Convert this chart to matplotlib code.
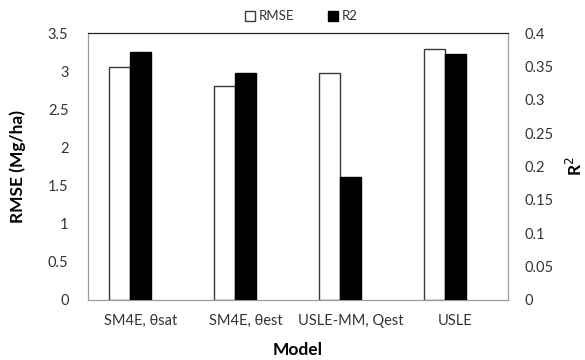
import numpy as np
import matplotlib.pyplot as plt
from matplotlib.patches import Patch

plt.rcParams['font.family'] = ['Lato', 'DejaVu Sans']

models = ['SM4E, θsat', 'SM4E, θest', 'USLE-MM, Qest', 'USLE']
rmse = [3.05, 2.80, 2.97, 3.29]
r2 = [0.371, 0.340, 0.185, 0.368]

tick_col = '#333333'
frame_col = '#9a9a9a'

fig = plt.figure(figsize=(5.85, 3.6), dpi=100)
ax = fig.add_axes([0.1504, 0.1667, 0.7180, 0.7416])
ax2 = ax.twinx()

x = np.arange(len(models))
w = 0.2
ax.bar(x - w, rmse, w, color='white', edgecolor='#3a3a3a', linewidth=1.0, zorder=3)
ax2.bar(x, r2, w, color='black', edgecolor='black', linewidth=1.0, zorder=3)

ax.set_xlim(-0.5, len(models) - 0.5)
ax.set_ylim(0, 3.5)
ax2.set_ylim(0, 0.4)
ax.set_yticks(np.arange(0, 3.51, 0.5))
ax.set_yticklabels(['0', '0.5', '1', '1.5', '2', '2.5', '3', '3.5'])
ax2.set_yticks(np.arange(0, 0.401, 0.05))
ax2.set_yticklabels(['0', '0.05', '0.1', '0.15', '0.2', '0.25', '0.3', '0.35', '0.4'])
ax.set_xticks(x)
ax.set_xticklabels(models)

for a in (ax, ax2):
    a.tick_params(length=0, labelsize=10.5, colors=tick_col, pad=8)
    for s in ('left', 'right', 'bottom'):
        a.spines[s].set_color(frame_col)
    a.spines['top'].set_color('#222222')
ax.tick_params(axis='x', pad=10)
ax2.tick_params(axis='y', pad=12)
ax.tick_params(axis='y', pad=14)

ax.set_xlabel('Model', fontsize=12.5, fontweight='bold', labelpad=10)
ax.set_ylabel('RMSE (Mg/ha)', fontsize=12.5, fontweight='bold', labelpad=16)
ax2.set_ylabel('R$^2$', fontsize=12.5, fontweight='bold', labelpad=8)

handles = [Patch(facecolor='white', edgecolor='#3a3a3a', label='RMSE'),
           Patch(facecolor='black', edgecolor='black', label='R2')]
fig.legend(handles=handles, loc='center', bbox_to_anchor=(0.515, 0.955), ncol=2,
           frameon=False, fontsize=9.5, handlelength=0.8, handleheight=0.8,
           handletextpad=0.3, columnspacing=2.5, labelcolor=tick_col)

fig.savefig('out.png', dpi=100)
